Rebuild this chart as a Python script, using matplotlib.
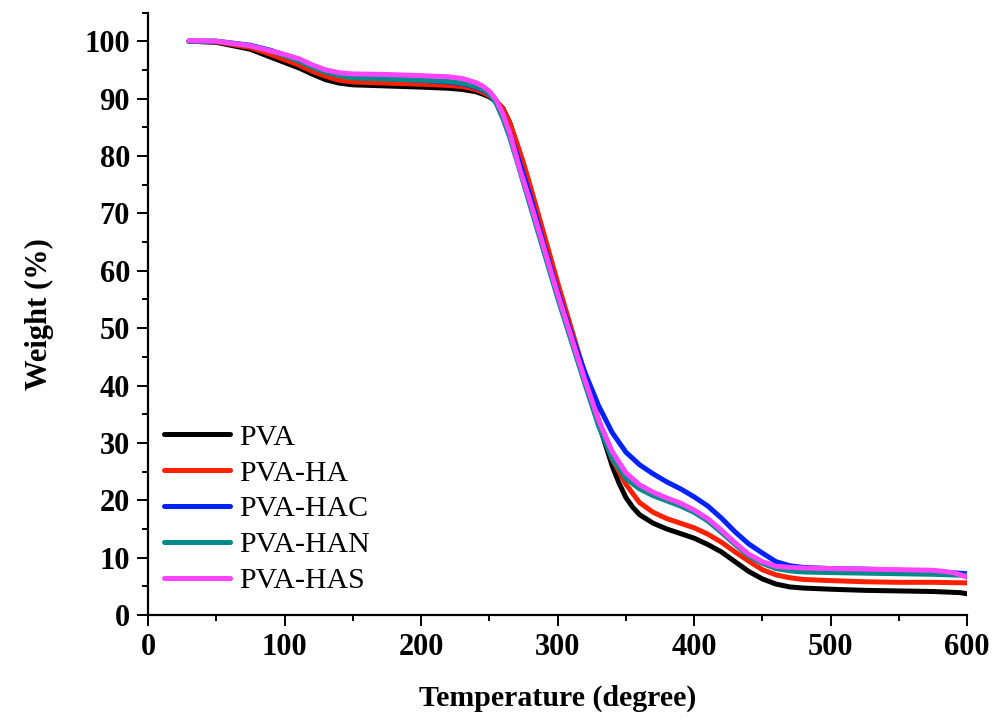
import matplotlib
matplotlib.use("Agg")
import matplotlib.pyplot as plt
from matplotlib.ticker import MultipleLocator

# temperature (degree) and weight (%)
t_pva = [30, 50, 75, 90, 100, 111, 120, 130, 140, 150, 175, 200, 220, 230, 240, 245, 250, 255, 260, 265, 270,
         275, 280, 290, 300, 310, 320, 330, 340, 345, 350, 355, 360, 370, 380, 390, 400, 410, 420, 430, 440,
         450, 460, 470, 480, 500, 525, 550, 575, 595, 600]
w_pva = [100.0, 99.8, 98.6, 97.2, 96.3, 95.3, 94.3, 93.3, 92.7, 92.4, 92.2, 92.0, 91.8, 91.6, 91.2, 90.8, 90.3,
         89.5, 88.3, 85.8, 82.0, 78.3, 74.3, 66.0, 57.5, 49.5, 41.5, 33.5, 26.0, 23.0, 20.5, 18.8, 17.5, 16.0,
         15.0, 14.2, 13.4, 12.3, 11.0, 9.3, 7.6, 6.3, 5.4, 4.9, 4.7, 4.5, 4.3, 4.2, 4.1, 3.9, 3.7]

t_ha = [30, 50, 75, 90, 100, 111, 120, 130, 140, 150, 175, 200, 220, 230, 240, 245, 250, 255, 260, 265, 270,
        275, 280, 290, 300, 310, 320, 330, 340, 350, 360, 370, 380, 390, 400, 410, 420, 430, 440, 450, 460,
        470, 480, 500, 525, 550, 575, 600]
w_ha = [100.0, 99.9, 98.9, 97.7, 96.8, 95.8, 94.8, 93.9, 93.2, 92.9, 92.7, 92.5, 92.3, 92.1, 91.6, 91.1, 90.5,
        89.6, 88.2, 85.8, 82.4, 78.8, 74.8, 66.4, 58.0, 50.0, 42.0, 34.0, 27.2, 22.8, 19.6, 17.9, 16.8, 16.0,
        15.2, 14.1, 12.7, 11.0, 9.4, 7.9, 7.0, 6.5, 6.2, 6.0, 5.8, 5.7, 5.7, 5.6]

t_hac = [30, 50, 75, 90, 100, 111, 120, 130, 140, 150, 175, 200, 220, 230, 240, 245, 250, 255, 260, 265, 270,
         280, 290, 300, 310, 320, 330, 340, 350, 360, 370, 380, 390, 400, 410, 420, 430, 440, 450, 460, 470,
         480, 500, 525, 550, 575, 600]
w_hac = [100.0, 100.0, 99.3, 98.4, 97.6, 96.7, 95.7, 94.7, 94.1, 93.8, 93.5, 93.2, 92.9, 92.6, 92.0, 91.5, 90.8,
         89.5, 87.3, 84.0, 80.5, 73.0, 64.5, 56.5, 49.0, 42.3, 36.5, 31.8, 28.4, 26.2, 24.6, 23.2, 22.0, 20.6,
         19.0, 16.9, 14.5, 12.4, 10.8, 9.3, 8.6, 8.3, 8.1, 8.0, 7.8, 7.6, 7.2]

t_han = [30, 50, 75, 90, 100, 111, 120, 130, 140, 150, 175, 200, 220, 230, 240, 245, 250, 255, 260, 265, 270,
         280, 290, 300, 310, 320, 330, 340, 350, 360, 370, 380, 390, 400, 410, 420, 430, 440, 450, 460, 470,
         480, 500, 525, 550, 575, 600]
w_han = [100.0, 100.0, 99.2, 98.3, 97.5, 96.5, 95.5, 94.6, 94.0, 93.6, 93.4, 93.2, 93.0, 92.7, 92.1, 91.6, 90.8,
         89.2, 86.5, 83.2, 79.3, 71.3, 63.3, 55.3, 47.8, 40.3, 33.0, 27.3, 23.8, 22.0, 20.8, 19.9, 19.0, 17.9,
         16.4, 14.4, 12.3, 10.3, 9.0, 8.1, 7.7, 7.5, 7.4, 7.3, 7.2, 7.1, 6.9]

t_has = [30, 50, 75, 90, 100, 111, 120, 130, 140, 150, 175, 200, 220, 230, 240, 245, 250, 255, 260, 265, 272,
         280, 290, 300, 310, 320, 330, 340, 350, 360, 370, 380, 390, 400, 410, 420, 430, 440, 450, 460, 470,
         480, 500, 525, 550, 575, 590, 600]
w_has = [100.1, 100.0, 99.2, 98.3, 97.7, 96.9, 95.9, 95.0, 94.5, 94.3, 94.2, 94.0, 93.8, 93.5, 92.8, 92.2, 91.3,
         89.8, 87.3, 84.0, 78.0, 72.0, 64.0, 56.0, 48.5, 41.0, 34.0, 28.5, 24.8, 22.7, 21.4, 20.4, 19.5, 18.3,
         16.8, 14.8, 12.6, 10.6, 9.3, 8.5, 8.3, 8.2, 8.1, 8.0, 7.9, 7.8, 7.4, 6.6]

series = [
    ("PVA", t_pva, w_pva, "black"),
    ("PVA-HA", t_ha, w_ha, "#ff2000"),
    ("PVA-HAC", t_hac, w_hac, "#0022ff"),
    ("PVA-HAN", t_han, w_han, "#008b8b"),
    ("PVA-HAS", t_has, w_has, "#ff44ff"),
]

plt.rcParams["font.family"] = ["Liberation Serif", "DejaVu Serif"]

fig = plt.figure(figsize=(9.96, 7.19), dpi=100)
ax = fig.add_axes([0.1486, 0.1446, 0.8224, 0.838])

for name, t, w, c in series:
    ax.plot(t, w, color=c, linewidth=3.6, label=name, solid_capstyle="round")

ax.set_xlim(0, 600)
ax.set_ylim(0, 105)
ax.xaxis.set_major_locator(MultipleLocator(100))
ax.xaxis.set_minor_locator(MultipleLocator(50))
ax.yaxis.set_major_locator(MultipleLocator(10))
ax.yaxis.set_minor_locator(MultipleLocator(5))

for s in ["top", "right"]:
    ax.spines[s].set_visible(False)
for s in ["left", "bottom"]:
    ax.spines[s].set_linewidth(1.6)

ax.tick_params(which="major", direction="out", length=8, width=1.4, labelsize=22, pad=5)
ax.tick_params(which="minor", direction="out", length=4, width=1.4)
for lab in ax.get_xticklabels() + ax.get_yticklabels():
    lab.set_fontweight("bold")

ax.set_xlabel("Temperature (degree)", fontsize=21.5, fontweight="bold", labelpad=16)
ax.set_ylabel("Weight (%)", fontsize=22, fontweight="bold", labelpad=22)

ax.legend(loc="lower left", bbox_to_anchor=(-0.006, 0.0), frameon=False, fontsize=21.5,
          handlelength=2.2, handletextpad=0.3, labelspacing=0.3, borderaxespad=0.3)

fig.savefig("out.png", dpi=100)
